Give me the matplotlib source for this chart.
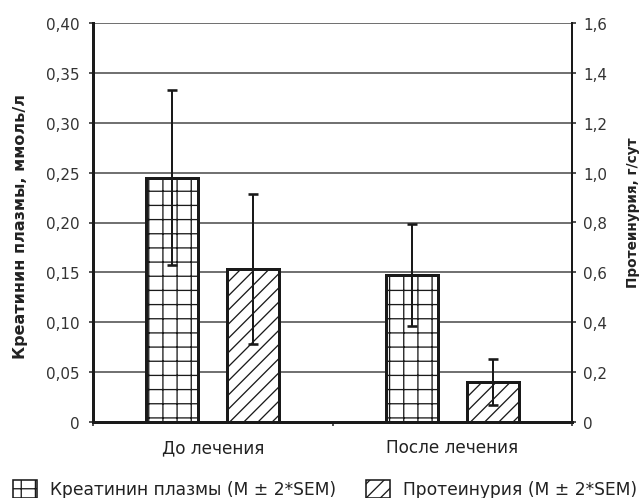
import matplotlib
matplotlib.use("Agg")
import matplotlib.pyplot as plt
from matplotlib.patches import Patch
import numpy as np

categories = ['До лечения', 'После лечения']
creatinine = [0.245, 0.147]
creatinine_err = [0.088, 0.051]
proteinuria = [0.613, 0.160]
proteinuria_err = [0.300, 0.093]
left_ticks = [0, 0.05, 0.10, 0.15, 0.20, 0.25, 0.30, 0.35, 0.40]
left_labels = ['0', '0,05', '0,10', '0,15', '0,20', '0,25', '0,30', '0,35', '0,40']
right_ticks = [0, 0.2, 0.4, 0.6, 0.8, 1.0, 1.2, 1.4, 1.6]
right_labels = ['0', '0,2', '0,4', '0,6', '0,8', '1,0', '1,2', '1,4', '1,6']
legend_labels = ['Креатинин плазмы (M ± 2*SEM)', 'Протеинурия (M ± 2*SEM)']

DPI = 85
PX = 72 / DPI  # points per pixel
plt.rcParams['font.family'] = ['DejaVu Sans']
plt.rcParams['hatch.linewidth'] = 1.3 * PX
plt.rcParams['hatch.color'] = '#111111'
FS = 12.8
FS_CAT = 14.3
FS_LEG = 14.5

fig = plt.figure(figsize=(643 / DPI, 499 / DPI), dpi=DPI)
ax = fig.add_axes([93 / 643, 1 - 423 / 499, (572 - 93) / 643, (423 - 24) / 499])
ax2 = ax.twinx()

x = np.arange(len(categories))
w = 0.217
off = 0.169
ink = '#1a1a1a'

ax.bar(x - off, creatinine, w, facecolor='white', edgecolor=ink, linewidth=3 * PX,
       hatch='+', zorder=3)
ax.errorbar(x - off, creatinine, yerr=creatinine_err, fmt='none', ecolor=ink,
            elinewidth=2 * PX, capsize=5 * PX, capthick=2.6 * PX, zorder=4)
ax2.bar(x + off, proteinuria, w, facecolor='white', edgecolor=ink, linewidth=3 * PX,
        hatch='//', zorder=3)
ax2.errorbar(x + off, proteinuria, yerr=proteinuria_err, fmt='none', ecolor=ink,
             elinewidth=2 * PX, capsize=5 * PX, capthick=2.6 * PX, zorder=4)

ax.set_xlim(-0.5, 1.5)
ax.set_ylim(0, 0.40)
ax2.set_ylim(0, 1.6)

ax.set_yticks(left_ticks)
ax.set_yticklabels(left_labels, fontsize=FS, color='#333333')
ax2.set_yticks(right_ticks)
ax2.set_yticklabels(right_labels, fontsize=FS, color='#333333')

ax.yaxis.grid(True, color='#444444', linewidth=1.5 * PX, zorder=0)
ax.set_axisbelow(True)

ax.set_xticks([-0.5, 0.5, 1.5])
ax.set_xticklabels(['', '', ''])
ax.set_xticks(x, minor=True)
ax.set_xticklabels(categories, minor=True, fontsize=FS_CAT, color='#222222')
ax.tick_params(axis='x', which='minor', length=0, pad=16 * PX)
ax.tick_params(axis='x', which='major', length=4 * PX, width=1.5 * PX, color=ink)
ax.tick_params(axis='y', length=4 * PX, width=1.5 * PX, color=ink, pad=9 * PX)
ax2.tick_params(axis='y', length=4 * PX, width=1.5 * PX, color=ink, pad=7 * PX)

for a in (ax, ax2):
    a.spines['top'].set_visible(False)
ax.spines['left'].set_linewidth(3 * PX)
ax.spines['bottom'].set_linewidth(3 * PX)
ax2.spines['left'].set_visible(False)
ax2.spines['bottom'].set_visible(False)
ax2.spines['right'].set_linewidth(2 * PX)
for s in ('left', 'bottom'):
    ax.spines[s].set_color(ink)
ax2.spines['right'].set_color(ink)
ax.spines['right'].set_visible(False)

ax.set_ylabel('Креатинин плазмы, ммоль/л', fontsize=13.5, fontweight='bold',
              color='#222222', va='center')
ax.yaxis.set_label_coords(-(93 - 20) / 479, 1 - (227 - 24) / 399)
ax2.set_ylabel('Протеинурия, г/сут', fontsize=11.5, fontweight='bold',
               color='#222222', rotation=90, va='center')
ax2.yaxis.set_label_coords(1 + (633 - 572) / 479, 1 - (213 - 24) / 399)

handles = [Patch(facecolor='white', edgecolor=ink, hatch='+', linewidth=1.6 * PX),
           Patch(facecolor='white', edgecolor=ink, hatch='//', linewidth=1.6 * PX)]
fig.legend(handles, legend_labels, loc='center left', bbox_to_anchor=(13 / 643, 1 - 490 / 499),
           ncol=2, frameon=False, fontsize=FS_LEG, handlelength=1.4, handleheight=1.25,
           handletextpad=0.75, columnspacing=1.75, borderpad=0, borderaxespad=0,
           labelcolor='#222222')

fig.savefig('out.png', dpi=DPI)
